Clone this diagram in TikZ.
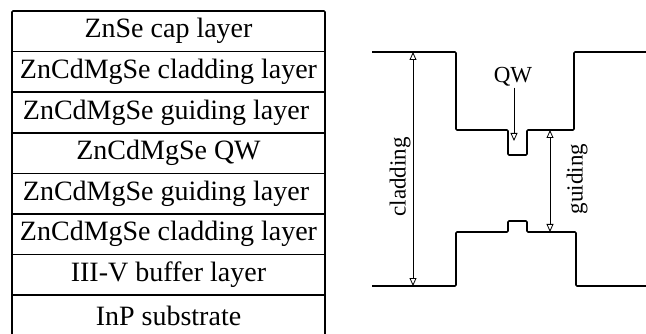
\documentclass[tikz,border=0pt]{standalone}
\usepackage{fontspec}
\setmainfont{Liberation Serif}
\usetikzlibrary{arrows.meta}

\begin{document}
\begin{tikzpicture}[x=1pt, y=-1pt,
    layer/.style={font=\fontsize{28}{30}\selectfont, inner sep=0pt},
    lbl/.style={font=\fontsize{23}{25}\selectfont, inner sep=0pt},
    edge/.style={line width=1.6pt, line join=round, rounded corners=1pt},
    dim/.style={{Triangle[open, length=8pt, width=7pt]}-{Triangle[open, length=8pt, width=7pt]}, line width=0.8pt},
    arr/.style={-{Triangle[open, length=8pt, width=7pt]}, line width=0.8pt},
]
\useasboundingbox (0,0) rectangle (646,334);

% Layer stack (left)
\draw[edge] (12,340) -- (12,11) -- (325,11) -- (325,340);
\foreach \y in {51.6,92.2,132.8,173.4,214,254.6,295.2}
    \draw[edge] (12,\y) -- (325,\y);

\node[layer] (cap) at (168.5,31.3) {ZnSe cap layer};
\node[layer] (cladtop) at (168.5,71.9) {ZnCdMgSe cladding layer};
\node[layer] (guidetop) at (166,112.5) {ZnCdMgSe guiding layer};
\node[layer] (qwlayer) at (168.5,153.1) {ZnCdMgSe QW};
\node[layer] (guidebot) at (166,193.7) {ZnCdMgSe guiding layer};
\node[layer] (cladbot) at (168.5,234.3) {ZnCdMgSe cladding layer};
\node[layer] (buffer) at (168.5,274.9) {III-V buffer layer};
\node[layer] (substrate) at (168.5,316) {InP substrate};

% Band profile (right)
\draw[edge] (372,52) -- (456,52) -- (456,130) -- (508,130) -- (508,155) -- (527,155)
    -- (527,130) -- (574,130) -- (574,52) -- (647,52);
\draw[edge] (372,286) -- (456,286) -- (456,232) -- (508,232) -- (508,221) -- (527,221)
    -- (527,232) -- (576,232) -- (576,286) -- (647,286);

\coordinate (cladA) at (413,52);
\coordinate (cladB) at (413,286);
\coordinate (guideA) at (550,130);
\coordinate (guideB) at (550,232);
\coordinate (qwtip) at (514,141);

\draw[dim] (cladA) -- (cladB);
\node[lbl, rotate=90] (cladlbl) at (400,177) {cladding};

\draw[dim] (guideA) -- (guideB);
\node[lbl, rotate=90] (guidelbl) at (577,179) {guiding};

\node[lbl] (qw) at (513,77) {QW};
\draw[arr] (qw.south) ++(1,1) coordinate (qwtail) (qwtail) -- (qwtip);

\end{tikzpicture}
\end{document}
